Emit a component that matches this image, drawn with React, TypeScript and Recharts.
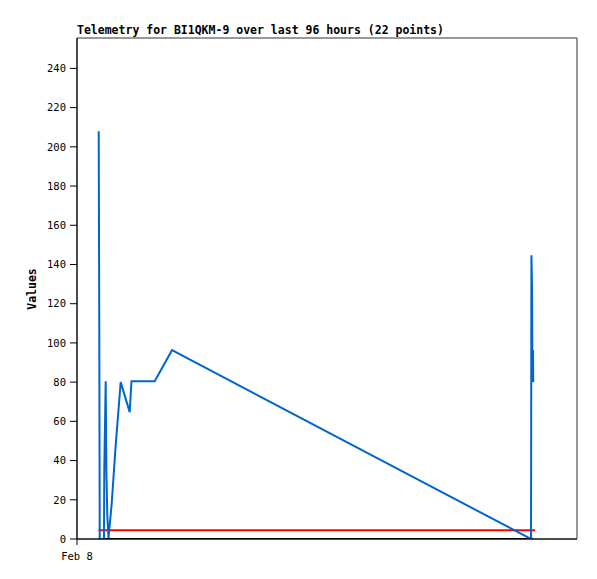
import React from "react";
import { LineChart, Line, XAxis, YAxis, ReferenceArea } from "recharts";

// hours since Feb 8 00:00
const hours = [
  4.17, 4.28, 4.36, 5.18, 5.24, 5.51, 5.63, 5.82, 6.05, 6.66, 7.43, 8.39,
  10.12, 10.46, 14.92, 18.24, 87.17, 87.25, 87.37, 87.45, 87.55, 87.6,
];
const values = [
  208, 104.5, 0, 0, 36, 80.5, 37, 12, 0.5, 18, 48, 80, 64.7, 80.5, 80.5, 96.3,
  0, 144.7, 128.6, 80, 96.3, 80,
];
const thresholdValue = 4.5;
const thresholdSpan = [4.12, 87.94];
const baselineSpan = [4.12, 87.6];
const yTicks = [0, 20, 40, 60, 80, 100, 120, 140, 160, 180, 200, 220, 240];
const xTicks = [0];
const xTickLabels = ["Feb 8"];
const xDomain = [0, 96];
const yDomain = [0, 255.5];

const telemetry = hours.map((t, i) => ({ t, v: values[i] }));
const threshold = thresholdSpan.map((t) => ({ t, v: thresholdValue }));
const baseline = baselineSpan.map((t) => ({ t, v: 0 }));

const font = "'DejaVu Sans Mono', 'Liberation Mono', monospace";

export default function App() {
  return (
    <div style={{ position: "absolute", left: 0, top: 0 }}>
      <svg
        width={597}
        height={579}
        style={{ position: "absolute", left: 0, top: 0, pointerEvents: "none" }}
      >
        <text
          x={77}
          y={34}
          fontFamily={font}
          fontSize={11.5}
          fontWeight="bold"
          fill="#000"
        >
          Telemetry for BI1QKM-9 over last 96 hours (22 points)
        </text>
        <text
          x={36}
          y={289}
          fontFamily={font}
          fontSize={11.5}
          fontWeight="bold"
          fill="#000"
          textAnchor="middle"
          transform="rotate(-90 36 289)"
        >
          Values
        </text>
      </svg>
      <LineChart
        width={597}
        height={579}
        margin={{ top: 38, right: 20, bottom: 0, left: 0 }}
      >
        <XAxis
          dataKey="t"
          type="number"
          domain={xDomain}
          ticks={xTicks}
          tickFormatter={(_v: number, i: number) => xTickLabels[i]}
          height={40}
          tickSize={6}
          tickMargin={8}
          stroke="#000"
          tick={{ fill: "#000", fontFamily: font, fontSize: 10.5 }}
          allowDataOverflow
        />
        <YAxis
          type="number"
          domain={yDomain}
          ticks={yTicks}
          width={77}
          tickSize={7}
          tickMargin={4}
          stroke="#000"
          tick={{ fill: "#000", fontFamily: font, fontSize: 10.5 }}
          allowDataOverflow
        />
        <ReferenceArea
          x1={xDomain[0]}
          x2={xDomain[1]}
          y1={yDomain[0]}
          y2={yDomain[1]}
          fill="none"
          stroke="#333"
          strokeWidth={1}
          ifOverflow="visible"
        />
        <Line
          data={baseline}
          dataKey="v"
          type="linear"
          stroke="#000"
          strokeWidth={2}
          dot={false}
          isAnimationActive={false}
        />
        <Line
          data={threshold}
          dataKey="v"
          type="linear"
          stroke="#ff0000"
          strokeWidth={2}
          dot={false}
          isAnimationActive={false}
        />
        <Line
          data={telemetry}
          dataKey="v"
          type="linear"
          stroke="#0066cc"
          strokeWidth={2}
          dot={false}
          isAnimationActive={false}
        />
      </LineChart>
    </div>
  );
}
